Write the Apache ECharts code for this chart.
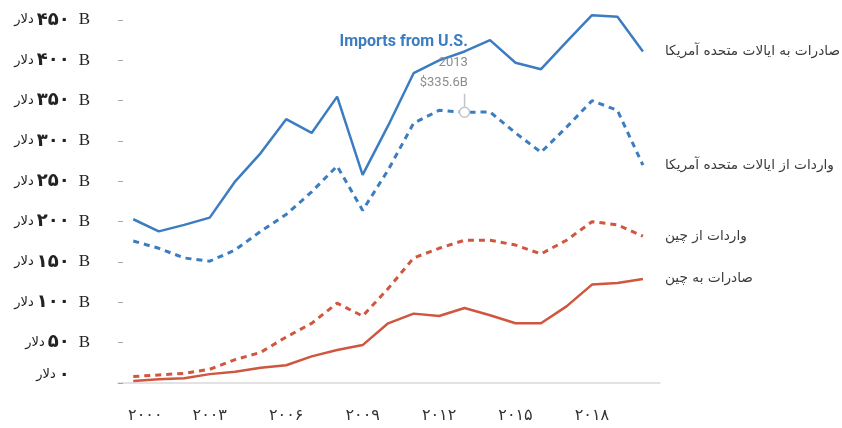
<!DOCTYPE html>
<html>
<head>
<meta charset="utf-8">
<script src="https://cdn.jsdelivr.net/npm/echarts@6/dist/echarts.min.js"></script>
<style>html,body{margin:0;padding:0;background:#fff}#c{width:842px;height:428px}</style>
</head>
<body>
<div id="c"></div>
<script>
const years = [2000,2001,2002,2003,2004,2005,2006,2007,2008,2009,2010,2011,2012,2013,2014,2015,2016,2017,2018,2019,2020];
const exportsToUS = [203,188,196,205,250,285,327,310,355,258,319,384,400,411,425,397,389,423,456,454,411];
const importsFromUS = [176,167,155,151,165,188,209,237,269,214,264,322,338,335.6,336,310,286,317,350,338,270];
const importsFromChina = [8,10,12,17,29,38,57,74,99,83,117,155,167,177,177,171,160,177,200,196,182];
const exportsToChina = [2.5,4.6,6,11,14,19,22,33,41,47,74,86,83,93,84,74,74,95,122,124,129];
const xTickYears = [2000,2003,2006,2009,2012,2015,2018];
const seriesNames = ['صادرات به ایالات متحده آمریکا','واردات از ایالات متحده آمریکا','واردات از چین','صادرات به چین'];
const currencyWord = 'دلار';
const annotation = {year: 2013, value: 335.6, title: 'Imports from U.S.', text: '$335.6B'};

const BLUE = '#3b7dc0', RED = '#d0563f';
const fa = s => String(s).replace(/\d/g, d => '۰۱۲۳۴۵۶۷۸۹'[d]);
const pairs = arr => years.map((y, i) => [y, arr[i]]);

const endLabel = {
  show: true, formatter: '{a}', distance: 22, color: '#3a3a3a',
  fontSize: 13.7, fontFamily: 'DejaVu Sans'
};

const chart = echarts.init(document.getElementById('c'));
chart.setOption({
  animation: false,
  grid: {left: 118, right: 182, top: 20, bottom: 45},
  xAxis: {
    type: 'value', min: 1999.4, max: 2020.67,
    splitLine: {show: false},
    axisLine: {show: true, onZero: false, lineStyle: {color: '#d9d9d9', width: 1.5}},
    axisTick: {show: false},
    axisLabel: {
      customValues: xTickYears, margin: 25, color: '#333', fontSize: 16,
      fontFamily: 'DejaVu Sans',
      formatter: v => v === xTickYears[0] ? '{f|' + fa(v) + '}' : fa(v),
      rich: {f: {color: '#333', fontSize: 16, fontFamily: 'DejaVu Sans', padding: [0, 0, 0, 24]}}
    }
  },
  yAxis: {
    type: 'value', min: 0, max: 450, interval: 50,
    splitLine: {show: false},
    axisLine: {show: false},
    axisTick: {show: true, inside: true, length: 5, lineStyle: {color: '#a6a6a6', width: 1}},
    axisLabel: {
      margin: 28,
      formatter: v => v === 0
        ? '{u0|' + currencyWord + '}{n0|' + fa(v) + '}{bt|B}'
        : '{u|' + currencyWord + '}{n|' + fa(v) + '}{b|B}',
      rich: {
        u: {fontSize: 13, fontFamily: 'DejaVu Sans', color: '#222'},
        n: {fontSize: 18, fontWeight: 'bold', fontFamily: 'DejaVu Sans', color: '#222', padding: [0, 0, 0, 3]},
        b: {fontSize: 17, fontFamily: 'Liberation Serif', color: '#222', padding: [0, 0, 0, 9]},
        u0: {fontSize: 13, fontFamily: 'DejaVu Sans', color: '#222', padding: [0, 0, 16, 0]},
        n0: {fontSize: 18, fontWeight: 'bold', fontFamily: 'DejaVu Sans', color: '#222', padding: [0, 0, 16, 3]},
        bt: {fontSize: 17, fontFamily: 'Liberation Serif', color: 'rgba(0,0,0,0)', padding: [0, 0, 16, 9]}
      }
    }
  },
  series: [
    {name: seriesNames[0], type: 'line', data: pairs(exportsToUS), symbol: 'none', clip: false,
     lineStyle: {color: BLUE, width: 2.5}, itemStyle: {color: BLUE}, endLabel},
    {name: seriesNames[1], type: 'line', data: pairs(importsFromUS), symbol: 'none', clip: false,
     lineStyle: {color: BLUE, width: 3, type: [6, 5]}, itemStyle: {color: BLUE}, endLabel,
     markPoint: {
       silent: true,
       data: [
         {coord: [annotation.year, annotation.value], symbol: 'rect', symbolSize: [1.5, 13], symbolOffset: [0, -12],
          itemStyle: {color: '#c4c4c4'}, label: {show: false}},
         {coord: [annotation.year, annotation.value], symbol: 'circle', symbolSize: 10,
          itemStyle: {color: '#ffffff', borderColor: '#c4c4c4', borderWidth: 1.5},
          label: {
            show: true, position: [9, -14], align: 'right', verticalAlign: 'bottom',
            formatter: '{t|' + annotation.title + '}\n{y|' + annotation.year + '}\n{v|' + annotation.text + '}',
            rich: {
              t: {align: 'right', fontSize: 16, fontWeight: 'bold', fontFamily: 'Roboto', color: BLUE, lineHeight: 22},
              y: {align: 'right', fontSize: 13, fontFamily: 'Roboto', color: '#8c8c8c', lineHeight: 20},
              v: {align: 'right', fontSize: 13, fontFamily: 'Roboto', color: '#8c8c8c', lineHeight: 20}
            }
          }}
       ]
     }},
    {name: seriesNames[2], type: 'line', data: pairs(importsFromChina), symbol: 'none', clip: false,
     lineStyle: {color: RED, width: 3, type: [6, 5]}, itemStyle: {color: RED}, endLabel},
    {name: seriesNames[3], type: 'line', data: pairs(exportsToChina), symbol: 'none', clip: false,
     lineStyle: {color: RED, width: 2.5}, itemStyle: {color: RED}, endLabel}
  ]
});
</script>
</body>
</html>
